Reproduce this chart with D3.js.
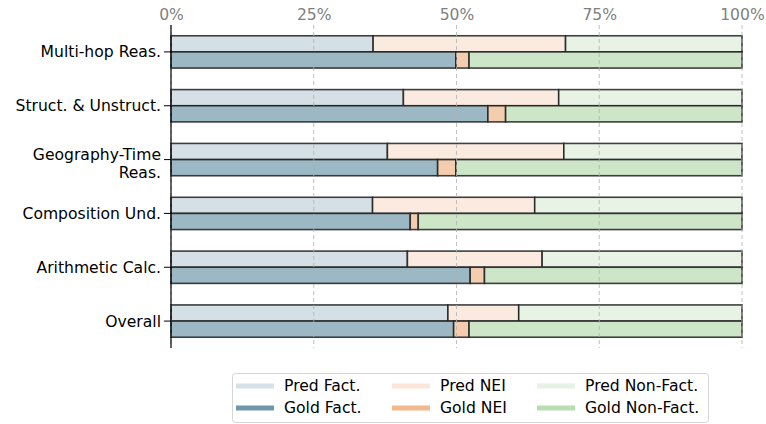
<!DOCTYPE html>
<html>
<head>
<meta charset="utf-8">
<script src="https://cdn.jsdelivr.net/npm/d3@7/dist/d3.min.js"></script>
<style>
  html, body { margin: 0; padding: 0; background: #fff; }
  svg { display: block; font-family: "DejaVu Sans", sans-serif; }
</style>
</head>
<body>
<svg id="chart" width="766" height="424"></svg>
<script>
// Task categories (top to bottom)
const categories = [
  "Multi-hop Reas.",
  "Struct. & Unstruct.",
  "Geography-Time\nReas.",
  "Composition Und.",
  "Arithmetic Calc.",
  "Overall"
];

// Label shares in percent: predicted vs gold
const predFact    = [35.4, 40.7, 37.9, 35.3, 41.4, 48.5];
const predNEI     = [33.7, 27.2, 30.9, 28.4, 23.6, 12.4];
const predNonFact = [30.9, 32.1, 31.2, 36.3, 35.0, 39.1];

const goldFact    = [49.9, 55.5, 46.7, 41.9, 52.4, 49.5];
const goldNEI     = [2.3, 3.1, 3.2, 1.4, 2.5, 2.7];
const goldNonFact = [47.8, 41.4, 50.1, 56.7, 45.1, 47.8];

const xTicks = [0, 25, 50, 75, 100];

const segments = ["Fact.", "NEI", "Non-Fact."];
const predColors = ["#d5e0e6", "#fbeadf", "#e8f3e6"];
const goldColors = ["#9bb8c4", "#f3cdae", "#cde6c8"];
const legendPred = ["#d6e1e8", "#fbe6d9", "#e6f2e4"];
const legendGold = ["#6f97aa", "#f2b98c", "#b9dcb1"];

const FONT = "15.6px";

const svg = d3.select("#chart");
const margin = { left: 171, right: 24, top: 25, bottom: 76 };
const W = 766, H = 424;

const x = d3.scaleLinear().domain([0, 100]).range([margin.left, W - margin.right]);
const y = d3.scaleBand().domain(categories).range([margin.top, H - margin.bottom]).paddingInner(0).paddingOuter(0);
const band = y.bandwidth();
const barH = band * 0.3;

// Stack each row into [start, end] segments
function stackRows(a, b, c) {
  return categories.map((cat, i) => {
    const vals = [a[i], b[i], c[i]];
    let acc = 0;
    return vals.map((v, k) => { const s = acc; acc += v; return { cat, k, x0: s, x1: Math.min(acc, 100) }; });
  });
}
const predRows = stackRows(predFact, predNEI, predNonFact);
const goldRows = stackRows(goldFact, goldNEI, goldNonFact);

const barsG = svg.append("g");
function drawBars(rows, colors, offset) {
  rows.forEach(row => {
    barsG.selectAll(null).data(row).enter().append("rect")
      .attr("x", d => x(d.x0))
      .attr("y", d => y(d.cat) + band / 2 + offset)
      .attr("width", d => x(d.x1) - x(d.x0))
      .attr("height", barH)
      .attr("fill", d => colors[d.k])
      .attr("stroke", "#1e1e1e")
      .attr("stroke-opacity", 0.85)
      .attr("stroke-width", 1.6);
  });
}
drawBars(predRows, predColors, -barH);
drawBars(goldRows, goldColors, 0);

// Dashed vertical gridlines
svg.append("g").selectAll("line").data(xTicks).enter().append("line")
  .attr("x1", d => x(d)).attr("x2", d => x(d))
  .attr("y1", margin.top).attr("y2", H - margin.bottom)
  .attr("stroke", "#b0b0b0").attr("stroke-opacity", 0.8)
  .attr("stroke-width", 1).attr("stroke-dasharray", "4,3");

// Top axis labels
const xAxis = d3.axisTop(x).tickValues(xTicks).tickFormat(d => d + "%").tickSize(0).tickPadding(5);
const gx = svg.append("g").attr("transform", `translate(0,${margin.top})`).call(xAxis);
gx.select(".domain").remove();
gx.selectAll("text").attr("fill", "#808080").style("font-size", FONT).style("font-family", "DejaVu Sans");

// Left axis with multi-line labels
const yAxis = d3.axisLeft(y).tickSize(7).tickPadding(4).tickFormat("");
const gy = svg.append("g").attr("transform", `translate(${margin.left},0)`).call(yAxis);
gy.select(".domain").attr("stroke", "#000").attr("stroke-width", 1.2).attr("d", `M0,${margin.top}V${H - margin.bottom}`);
gy.selectAll(".tick line").attr("stroke", "#000").attr("stroke-width", 1);
gy.selectAll(".tick").each(function(d) {
  const lines = d.split("\n");
  const t = d3.select(this).append("text")
    .attr("x", -10).attr("fill", "#000")
    .attr("text-anchor", "end")
    .style("font-size", FONT).style("font-family", "DejaVu Sans");
  const lh = 18;
  const shift = lines.length > 1 ? 4 : 0;
  lines.forEach((ln, i) => {
    t.append("tspan").attr("x", -10)
      .attr("y", (i - (lines.length - 1) / 2) * lh + shift)
      .attr("dy", "0.35em").text(ln);
  });
});

// Legend
const lg = svg.append("g");
lg.append("rect").attr("x", 232.5).attr("y", 373.5).attr("width", 476).attr("height", 49)
  .attr("rx", 3).attr("fill", "#fff").attr("stroke", "#d5d5d5").attr("stroke-width", 1);
const colX = [236, 392, 537];
segments.forEach((s, k) => {
  [["Pred " + s, legendPred[k], 386], ["Gold " + s, legendGold[k], 408]].forEach(([label, c, yy]) => {
    lg.append("line").attr("x1", colX[k]).attr("x2", colX[k] + 38).attr("y1", yy).attr("y2", yy)
      .attr("stroke", c).attr("stroke-width", 5);
    lg.append("text").attr("x", colX[k] + 48).attr("y", yy).attr("dy", "0.35em")
      .style("font-size", FONT).style("font-family", "DejaVu Sans").attr("fill", "#000").text(label);
  });
});
</script>
</body>
</html>
